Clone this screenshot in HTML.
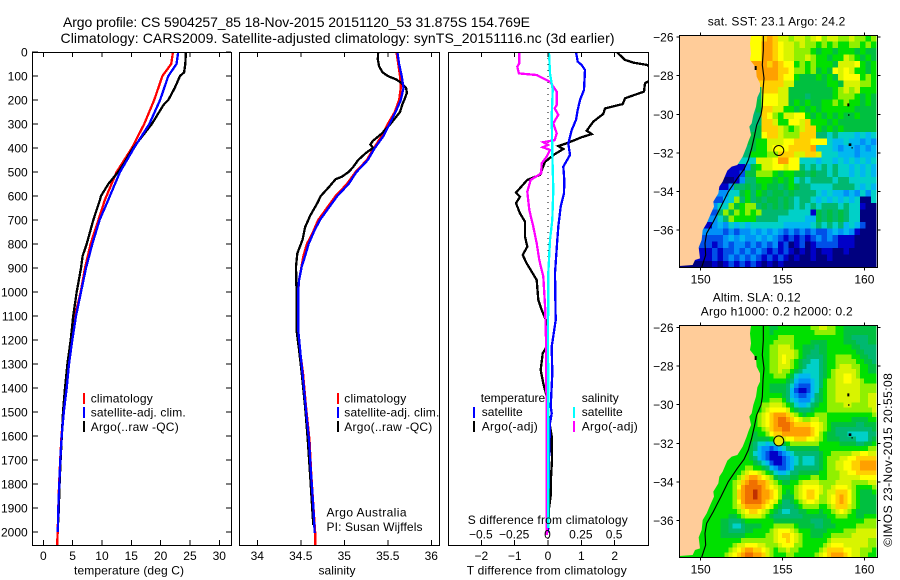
<!DOCTYPE html>
<html>
<head>
<meta charset="utf-8">
<title>Argo profile</title>
<style>
html,body{margin:0;padding:0;background:#fff;}
svg{display:block;font-family:"Liberation Sans",sans-serif;}
text{font-size:12px;fill:#000;}
.ttl{font-size:14px;}
</style>
</head>
<body>
<svg id="chart" xmlns="http://www.w3.org/2000/svg" width="900" height="580" viewBox="0 0 900 580">
<defs>
<clipPath id="clipP1"><rect x="32" y="52" width="199.5" height="493.5"/></clipPath>
<clipPath id="clipP2"><rect x="239" y="52" width="200.5" height="493.5"/></clipPath>
<clipPath id="clipP3"><rect x="448" y="52" width="200.5" height="493.5"/></clipPath>
</defs>
<text class="ttl" x="63" y="27" textLength="467">Argo profile: CS 5904257_85 18-Nov-2015 20151120_53 31.875S 154.769E</text>
<text class="ttl" x="60.5" y="43" textLength="554">Climatology: CARS2009. Satellite-adjusted climatology: synTS_20151116.nc (3d earlier)</text>

<g id="p1"></g>
<g id="p2"></g>
<g id="p3"></g>

<text x="74" y="574.5" textLength="110">temperature (deg C)</text>
<text x="318.5" y="574.5" textLength="37">salinity</text>
<text x="466.7" y="574.5" textLength="160">T difference from climatology</text>
<text x="467.7" y="524" textLength="160">S difference from climatology</text>

<g>
<rect x="83" y="393" width="2" height="11" fill="#f00"/>
<rect x="83" y="407" width="2" height="11" fill="#00f"/>
<rect x="83" y="421" width="2" height="11" fill="#000"/>
<text x="90.7" y="402.5" textLength="62">climatology</text>
<text x="90.7" y="416.5" textLength="95">satellite-adj. clim.</text>
<text x="90.7" y="431" textLength="88">Argo(..raw -QC)</text>
</g>
<g>
<rect x="337" y="393" width="2" height="11" fill="#f00"/>
<rect x="337" y="407" width="2" height="11" fill="#00f"/>
<rect x="337" y="421" width="2" height="11" fill="#000"/>
<text x="344.3" y="402.5" textLength="62">climatology</text>
<text x="344.3" y="416.5" textLength="95">satellite-adj. clim.</text>
<text x="344.3" y="431" textLength="88">Argo(..raw -QC)</text>
</g>
<text x="326.5" y="516.5" textLength="80">Argo Australia</text>
<text x="326.5" y="531" textLength="96">PI: Susan Wijffels</text>

<g>
<rect x="473" y="407" width="2" height="11" fill="#00f"/>
<rect x="473" y="421" width="2" height="11" fill="#000"/>
<rect x="573" y="407" width="2" height="11" fill="#0ff"/>
<rect x="573" y="421" width="2" height="11" fill="#f0f"/>
<text x="480.7" y="402" textLength="64.5">temperature</text>
<text x="481.7" y="416" textLength="41">satellite</text>
<text x="481.7" y="430.5" textLength="56">Argo(-adj)</text>
<text x="581.7" y="402" textLength="37">salinity</text>
<text x="581.7" y="416" textLength="41">satellite</text>
<text x="581.7" y="430.5" textLength="56">Argo(-adj)</text>
</g>

<text x="707.7" y="25.5" textLength="137.6">sat. SST: 23.1 Argo: 24.2</text>
<text x="712.7" y="301.5" textLength="88">Altim. SLA: 0.12</text>
<text x="700.7" y="315.7" textLength="152">Argo h1000: 0.2 h2000: 0.2</text>

<g id="m1"></g>
<g id="m2"></g>

<text transform="translate(892,546.7) rotate(-90)" x="0" y="0" textLength="173.5">©IMOS 23-Nov-2015 20:55:08</text>
</svg>

<script>
/* ---------- profile data ---------- */
const climDepth = [0,50,100,200,300,400,500,616,700,800,900,1000,1100,1200,1300,1400,1500,1600,1700,1800,1900,2000,2054];
const climTemp = [22.1,21.8,20.3,18.9,17.2,15.1,12.5,10.5,9.4,8.07,7.1,6.37,5.4,4.84,4.27,3.87,3.45,3.1,2.88,2.7,2.55,2.45,2.35];
const satDepth = [0,50,100,200,300,400,500,616,700,800,900,1000,1100,1200,1300,1400,1500,1600,1700,1800,1900,2000];
const satTemp = [23.0,22.7,21.3,19.9,18.07,15.46,13.07,11.08,9.6,8.35,7.28,6.43,5.57,4.95,4.38,3.98,3.5,3.13,2.9,2.72,2.55,2.47];
const argoDepth = [0,50,85,100,150,200,220,300,400,470,500,550,600,616,700,800,850,900,1000,1100,1200,1300,1400,1500,1600,1700,1800,1900,1960];
const argoTemp = [24.3,24.2,24.0,23.3,22.4,21.3,20.5,18.5,15.3,13.6,12.75,11.08,9.83,9.66,8.53,7.4,6.7,6.43,5.69,5.1,4.67,4.1,3.7,3.35,3.15,2.95,2.78,2.65,2.55];

const climSalDepth = [0,100,150,200,250,300,350,400,450,500,550,600,650,700,750,800,850,950,1000,1158,1270,1338,1478,1617,1755,1894,2004,2054];
const climSal = [35.60,35.64,35.65,35.63,35.58,35.5,35.43,35.34,35.26,35.13,35.03,34.90,34.80,34.70,34.64,34.57,34.53,34.48,34.47,34.47,34.5,34.525,34.56,34.6,34.62,34.645,34.665,34.667];
const satSalDepth = [0,50,100,150,200,250,300,350,400,450,500,550,600,650,700,750,800,850,894,950,992,1158,1270,1338,1478,1617,1755,1894,2004];
const satSal = [35.61,35.63,35.66,35.68,35.65,35.59,35.52,35.45,35.35,35.27,35.14,35.05,34.92,34.82,34.72,34.65,34.59,34.55,34.51,34.48,34.47,34.47,34.5,34.52,34.556,34.594,34.617,34.644,34.66];
const argoSalDepth = [0,30,60,85,100,115,130,150,170,200,215,250,300,340,370,385,400,420,450,480,500,520,530,560,600,630,680,730,783,839,894,992,1158,1242,1338,1478,1617,1755,1894,1971];
const argoSal = [35.39,35.385,35.4,35.44,35.5,35.6,35.66,35.71,35.72,35.69,35.67,35.64,35.53,35.43,35.33,35.3,35.33,35.25,35.16,35.1,35.05,34.97,34.9,34.83,34.73,34.69,34.61,34.55,34.52,34.46,34.445,34.45,34.45,34.48,34.51,34.55,34.58,34.606,34.63,34.644];

const dTArgoDepth = [0,33,44,54,70,100,130,165,193,217,235,258,290,328,342,355,378,392,404,425,457,512,533,586,603,630,672,707,769,811,846,881,950,1033,1075,1117,1228,1256,1325,1381,1436,1500,1550,1600,1700,1750,1800,1850,1900,2000];
const dTArgo = [2.06,2.31,2.56,2.98,3.1,3.3,2.91,2.88,2.31,2.24,1.71,1.66,1.36,1.16,1.31,1.01,0.61,0.31,0.46,0.21,-0.09,-0.24,-0.62,-0.96,-0.84,-0.96,-0.84,-0.69,-0.69,-0.62,-0.76,-0.64,-0.34,-0.29,-0.19,-0.06,-0.04,-0.16,-0.22,-0.14,-0.04,0.0,0.05,0.11,0.12,0.1,0.08,0.08,0.03,0.0];
const dTSatDepth = [0,40,54,75,158,200,242,283,325,381,429,478,533,589,644,728,783,922,1117,1228,1339,1478,1505,1547,1700,2000];
const dTSat = [0.84,0.89,1.01,1.11,1.08,0.96,0.89,0.84,0.71,0.61,0.66,0.46,0.49,0.48,0.38,0.31,0.28,0.21,0.23,0.11,0.13,0.08,0.11,0.06,0.03,0.0];
const dSSatDepth = [0,89,158,269,422,575,700,783,922,1200,1478,1983];
const dSSat = [0.0075,0.015,0.035,0.028,0.032,0.04,0.032,0.015,0.002,0.0,0.002,0.002];
const dSArgoDepth = [0,47,61,89,96,124,165,221,235,262,297,339,367,376,387,397,408,436,464,506,533,582,658,728,797,867,936,1061,1200,1575,2012];
const dSArgo = [-0.215,-0.215,-0.23,-0.218,-0.085,0.015,0.065,0.065,0.05,0.077,0.04,0.065,0.05,-0.035,0.0,-0.04,0.015,-0.01,-0.047,-0.052,-0.13,-0.155,-0.14,-0.11,-0.085,-0.065,-0.035,-0.022,-0.015,-0.01,-0.01];

/* ---------- tick labels ---------- */
const depthTicks = [0,100,200,300,400,500,600,700,800,900,1000,1100,1200,1300,1400,1500,1600,1700,1800,1900,2000];
const tempTicks = [0,5,10,15,20,25,30];
const salTicks = [34,34.5,35,35.5,36];
const dTTicks = [-2,-1,0,1,2];
const dSTicks = [-0.5,-0.25,0,0.25,0.5];
const lonTicks = [150,155,160];
const latTicks = [-26,-28,-30,-32,-34,-36];
const argoLon = 154.769;
const argoLat = -31.875;

/* ---------- map grids: colour level per cell (. = land) ---------- */
const sstGrid = [
".............bbcdcaa9aa9ab9aa99a9989",
".............bbddcbaa9a9989898899898",
".............bbddcbaa99987887888787",
"..............bddcbaa99a988788a98787",
"...............dcdcbb89898887aaab878",
"...............dddccb9989787baba8878",
"...............dddcbb87778787abbb898",
"...............ccccaa777777887aaa998",
"..............6cccaa7777777789a9a888",
"..............6bbbaa7776777789998787",
"..............7bbbaa7878778898988787",
".............67ccaa88787878888887777",
".............66cb98aabb8787878778777",
".............66cca88bbac888787777777",
".............67ccca989acc87878777777",
".............77bcca999ccc66565554545",
".............788aaabbcccbbb544544343",
"............6788abbbccccd55543443434",
"............688899cccaacca5554443444",
"............55aaabddbb55545545454545",
"...........1378aabbabb65656565545454",
".........112779998788776766565545454",
"........0013668887878565666656655555",
"........1366767877678766555566665454",
"......." + "335578" + "68767767666654544343535",
"......" + "2245968" + "67677676566545454545005",
"......" + "3559789" + "96767676565656665655100",
"......" + "2697989" + "89666665555176767655000",
"....." + "33569888" + "86666555554476767655000",
"....." + "13435454" + "55555544444565656454200",
"....." + "33323233" + "43434323232322343431000",
"....." + "22234343" + "34343212121232321110000",
"...." + "221232332" + "32323120120122221110000",
"....." + "12122323" + "23212121010101100100000",
"....." + "12123232" + "32121210100100100000000",
"00000" + "01012121" + "21010100000000000000000"
];
const slaGrid = [
"888888888887888" + "89a987777",
"88888888888" + "8998" + "877887667",
"88888888888" + "9aa8" + "767888766",
"88888888888" + "9ba8" + "656899876",
"88888888888" + "9a97" + "5568aa987",
"88888888888" + "8974" + "3579aba88",
"88888888888" + "7751147" + "9aaa99",
"88888888888" + "8852258" + "9aaa9a",
"88888888889" + "ba855789" + "9a99a",
"8888888888b" + "dec98998" + "88778",
"8888888888a" + "deeddca7" + "67667",
"88888888878" + "bccddb87" + "65546",
"88888888853" + "35888888" + "87778",
"88888888842" + "01465579" + "9abcb",
"88888888875" + "21365579" + "abcdd",
"88888888cca" + "75677889" + "9abcc",
"8888888ceed" + "a889bb99" + "ba889",
"8888888defd" + "c87acc9a" + "dc877",
"8888888ceed" + "a668aa8a" + "dc877",
"8888888" + "9bb9" + "65567778a9777",
"8888875" + "5778" + "8887766788899",
"8888876" + "6788" + "acc9877889aaa",
"8888888" + "9aa9" + "9bc9888aaaaa9",
"888888a" + "dedb" + "889888addba98"
];
const palette = {
 "0":"#00007f","1":"#0000c8","2":"#0050e8","3":"#0090f8","4":"#00b8f0","5":"#00d0c8",
 "6":"#00b870","7":"#00c040","8":"#00e000","9":"#90f000","a":"#d8f400","b":"#ffff00",
 "c":"#ffd000","d":"#ffa000","e":"#f07000","f":"#c03000"
};

/* ---------- axis functions ---------- */
const NS = "http://www.w3.org/2000/svg";
const yDepth = d => 52 + 0.24 * d;
const xTemp = t => 43.3 + 5.867 * t;
const xSal = s => 257.3 + 87 * (s - 34);
const xDT = t => 548 + 33.33 * t;
const xDS = s => 548 + 133.3 * s;
const xLon = lon => 700.7 + 16.37 * (lon - 150);
const yLat1 = lat => 37 + 19.32 * (-26 - lat);
const yLat2 = lat => 327.3 + 19.34 * (-26 - lat);

function make(tag, attrs, parent){
  const el = document.createElementNS(NS, tag);
  for (const k in attrs) el.setAttribute(k, attrs[k]);
  parent.appendChild(el);
  return el;
}
function drawSeries(parent, depths, values, xFn, color, clip, name){
  const pts = depths.map((d,i) => xFn(values[i]).toFixed(1) + "," + yDepth(d).toFixed(1)).join(" ");
  const el = make("polyline", {points:pts, fill:"none", stroke:color, "stroke-width":2.3, "clip-path":"url(#"+clip+")", "shape-rendering":"crispEdges"}, parent);
  
  
}
function drawTick(parent, x1, y1, x2, y2){
  const el = make("line", {x1:x1, y1:y1, x2:x2, y2:y2, stroke:"#000", "stroke-width":1, "shape-rendering":"crispEdges"}, parent);
  
  
}
function drawLabel(parent, x, y, str, anchor){
  const el = make("text", {x:x, y:y, "text-anchor":anchor}, parent);
  el.textContent = str;
  
  
}
function drawFrame(parent, x, y, w, h){
  const el = make("rect", {x:x, y:y, width:w, height:h, fill:"none", stroke:"#000", "stroke-width":1, "shape-rendering":"crispEdges"}, parent);
  
  
}
const fmt = v => String(v).replace("-", "\u2212");

/* ---------- panel 1 ---------- */
const p1 = document.getElementById("p1");
drawSeries(p1, climDepth, climTemp, xTemp, "#f00", "clipP1", "climatology-temperature-line");
drawSeries(p1, argoDepth, argoTemp, xTemp, "#000", "clipP1", "argo-temperature-line");
drawSeries(p1, satDepth, satTemp, xTemp, "#00f", "clipP1", "satellite-temperature-line");
drawFrame(p1, 32.5, 52.5, 199, 493);
depthTicks.forEach(d => {
  drawTick(p1, 32, yDepth(d), 38, yDepth(d));
  drawTick(p1, 226, yDepth(d), 231, yDepth(d));
  drawLabel(p1, 27.7, yDepth(d) + 4.5, String(d), "end");
});
tempTicks.forEach(t => {
  drawTick(p1, xTemp(t), 52, xTemp(t), 57);
  drawTick(p1, xTemp(t), 540, xTemp(t), 545);
  drawLabel(p1, xTemp(t), 560, String(t), "middle");
});

/* ---------- panel 2 ---------- */
const p2 = document.getElementById("p2");
drawSeries(p2, climSalDepth, climSal, xSal, "#f00", "clipP2", "climatology-salinity-line");
drawSeries(p2, argoSalDepth, argoSal, xSal, "#000", "clipP2", "argo-salinity-line");
drawSeries(p2, satSalDepth, satSal, xSal, "#00f", "clipP2", "satellite-salinity-line");
drawFrame(p2, 239.5, 52.5, 200, 493);
salTicks.forEach(s => {
  drawTick(p2, xSal(s), 52, xSal(s), 57);
  drawTick(p2, xSal(s), 540, xSal(s), 545);
  drawLabel(p2, xSal(s), 560, String(s), "middle");
});

/* ---------- panel 3 ---------- */
const p3 = document.getElementById("p3");
const zero = make("line", {x1:xDT(0), y1:52, x2:xDT(0), y2:545, stroke:"#000", "stroke-width":1, "stroke-dasharray":"1 5"}, p3);


drawSeries(p3, dTArgoDepth, dTArgo, xDT, "#000", "clipP3", "argo-t-difference-line");
drawSeries(p3, dTSatDepth, dTSat, xDT, "#00f", "clipP3", "satellite-t-difference-line");
drawSeries(p3, dSArgoDepth, dSArgo, xDS, "#f0f", "clipP3", "argo-s-difference-line");
drawSeries(p3, dSSatDepth, dSSat, xDS, "#0ff", "clipP3", "satellite-s-difference-line");
drawFrame(p3, 448.5, 52.5, 200, 493);
dTTicks.forEach(t => {
  drawTick(p3, xDT(t), 52, xDT(t), 57);
  drawTick(p3, xDT(t), 540, xDT(t), 545);
  drawLabel(p3, xDT(t), 560, fmt(t), "middle");
});
dSTicks.forEach(s => drawLabel(p3, xDS(s) - 0.5, 538.7, fmt(s), "middle"));

/* ---------- maps ---------- */
const boxX = 679.3, boxW = 197;
function drawCell(parent, x, y, w, h, color, name){
  const el = make("rect", {x:x.toFixed(2), y:y.toFixed(2), width:(w+0.4).toFixed(2), height:(h+0.4).toFixed(2), fill:color, "shape-rendering":"crispEdges"}, parent);
  
  
}
function drawLand(parent, dy){
  const g = make("g", {transform:"translate(650," + dy + ") scale(0.33333)"}, parent);
  
  
  const land = make("path", {fill:"#ffcc99", d:"M88,76 L303,76 L300,100 L303,130 L300,150 L312,165 L318,175 L320,200 L330,220 L330,245 L322,262 L318,290 L310,315 L305,340 L298,350 L303,375 L295,395 L290,410 L278,440 L262,465 L245,470 L232,482 L218,515 L208,530 L205,550 L190,575 L192,590 L182,612 L170,640 L158,660 L155,690 L146,712 L150,745 L135,750 L128,765 L88,768 Z"}, g);
  
  
  const iso = make("path", {fill:"none", stroke:"#000", "stroke-width":3.4, d:"M340,76 L340,120 L337,165 L342,205 L339,240 L337,290 L333,315 L320,345 L313,380 L305,415 L295,450 L282,478 L262,505 L235,545 L213,590 L200,615 L190,635 L170,670 L165,700 L167,735 L155,772"}, g);
  
  
  const spots = make("path", {fill:"#000", d:"M314,168 h6 v12 h-6 z M592,280 h6 v9 h-6 z M595,312 h3 v6 h-3 z M596,400 h8 v8 h-8 z M604,412 h5 v3 h-5 z"}, g);
  
  
}
function drawMapAxes(parent, top, bottom, yFn){
  drawFrame(parent, boxX, top, 198, bottom - top);
  lonTicks.forEach(l => {
    drawTick(parent, xLon(l), top - 3, xLon(l), top);
    drawTick(parent, xLon(l), bottom, xLon(l), bottom + 3);
    drawLabel(parent, xLon(l), bottom + 16, String(l), "middle");
  });
  latTicks.forEach(l => {
    drawTick(parent, boxX - 3, yFn(l), boxX, yFn(l));
    drawTick(parent, boxX + 198, yFn(l), boxX + 201, yFn(l));
    drawLabel(parent, 673.5, yFn(l) + 4.5, fmt(l), "end");
  });
}
function drawMarker(parent, yFn, fill){
  const el = make("circle", {cx:xLon(argoLon), cy:yFn(argoLat), r:5, fill:fill, stroke:"#000", "stroke-width":1}, parent);
  
  
}

/* SST map: land cells take the first sea colour of their row so no gap shows at the coast */
const m1 = document.getElementById("m1");
const m1Top = 35.3, m1H = 232;
sstGrid.forEach((row, r) => {
  const ch = m1H / sstGrid.length, cw = boxW / 36;
  const firstSea = row.replace(/\./g, "")[0];
  const lastSea = row[row.length - 1];
  for (let c = 0; c < 36; c++) {
    let k = row[c];
    if (k === undefined) k = lastSea;
    if (k === ".") k = firstSea;
    drawCell(m1, boxX + c * cw, m1Top + r * ch, cw, ch, palette[k], "sst-cell");
  }
});
drawLand(m1, 10);
drawMarker(m1, yLat1, "none");
drawMapAxes(m1, 35.5, 267.5, yLat1);

/* SLA map: grid nodes resampled to 2x cells */
const m2 = document.getElementById("m2");
const m2Top = 325.3, m2H = 232;
function slaAt(gx, gy){
  const clampX = Math.max(0, Math.min(23, gx)), clampY = Math.max(0, Math.min(slaGrid.length - 1, gy));
  const x0 = Math.floor(clampX), y0 = Math.floor(clampY);
  const x1 = Math.min(23, x0 + 1), y1 = Math.min(slaGrid.length - 1, y0 + 1);
  const fx = clampX - x0, fy = clampY - y0;
  const v = (i, j) => { const n = parseInt(slaGrid[j][i], 16); return isNaN(n) ? 8 : n; };
  return v(x0,y0)*(1-fx)*(1-fy) + v(x1,y0)*fx*(1-fy) + v(x0,y1)*(1-fx)*fy + v(x1,y1)*fx*fy;
}
for (let r = 0; r < 48; r++) {
  for (let c = 0; c < 48; c++) {
    const lvl = Math.round(slaAt((c + 0.5) / 2 - 0.5, (r + 0.5) / 2 - 0.5));
    const key = lvl.toString(16);
    drawCell(m2, boxX + c * boxW / 48, m2Top + r * m2H / 48, boxW / 48, m2H / 48, palette[key], "sla-cell");
  }
}
drawLand(m2, 300);
drawMarker(m2, yLat2, "#e8e800");
drawMapAxes(m2, 325.5, 557.5, yLat2);
</script>
</body>
</html>
